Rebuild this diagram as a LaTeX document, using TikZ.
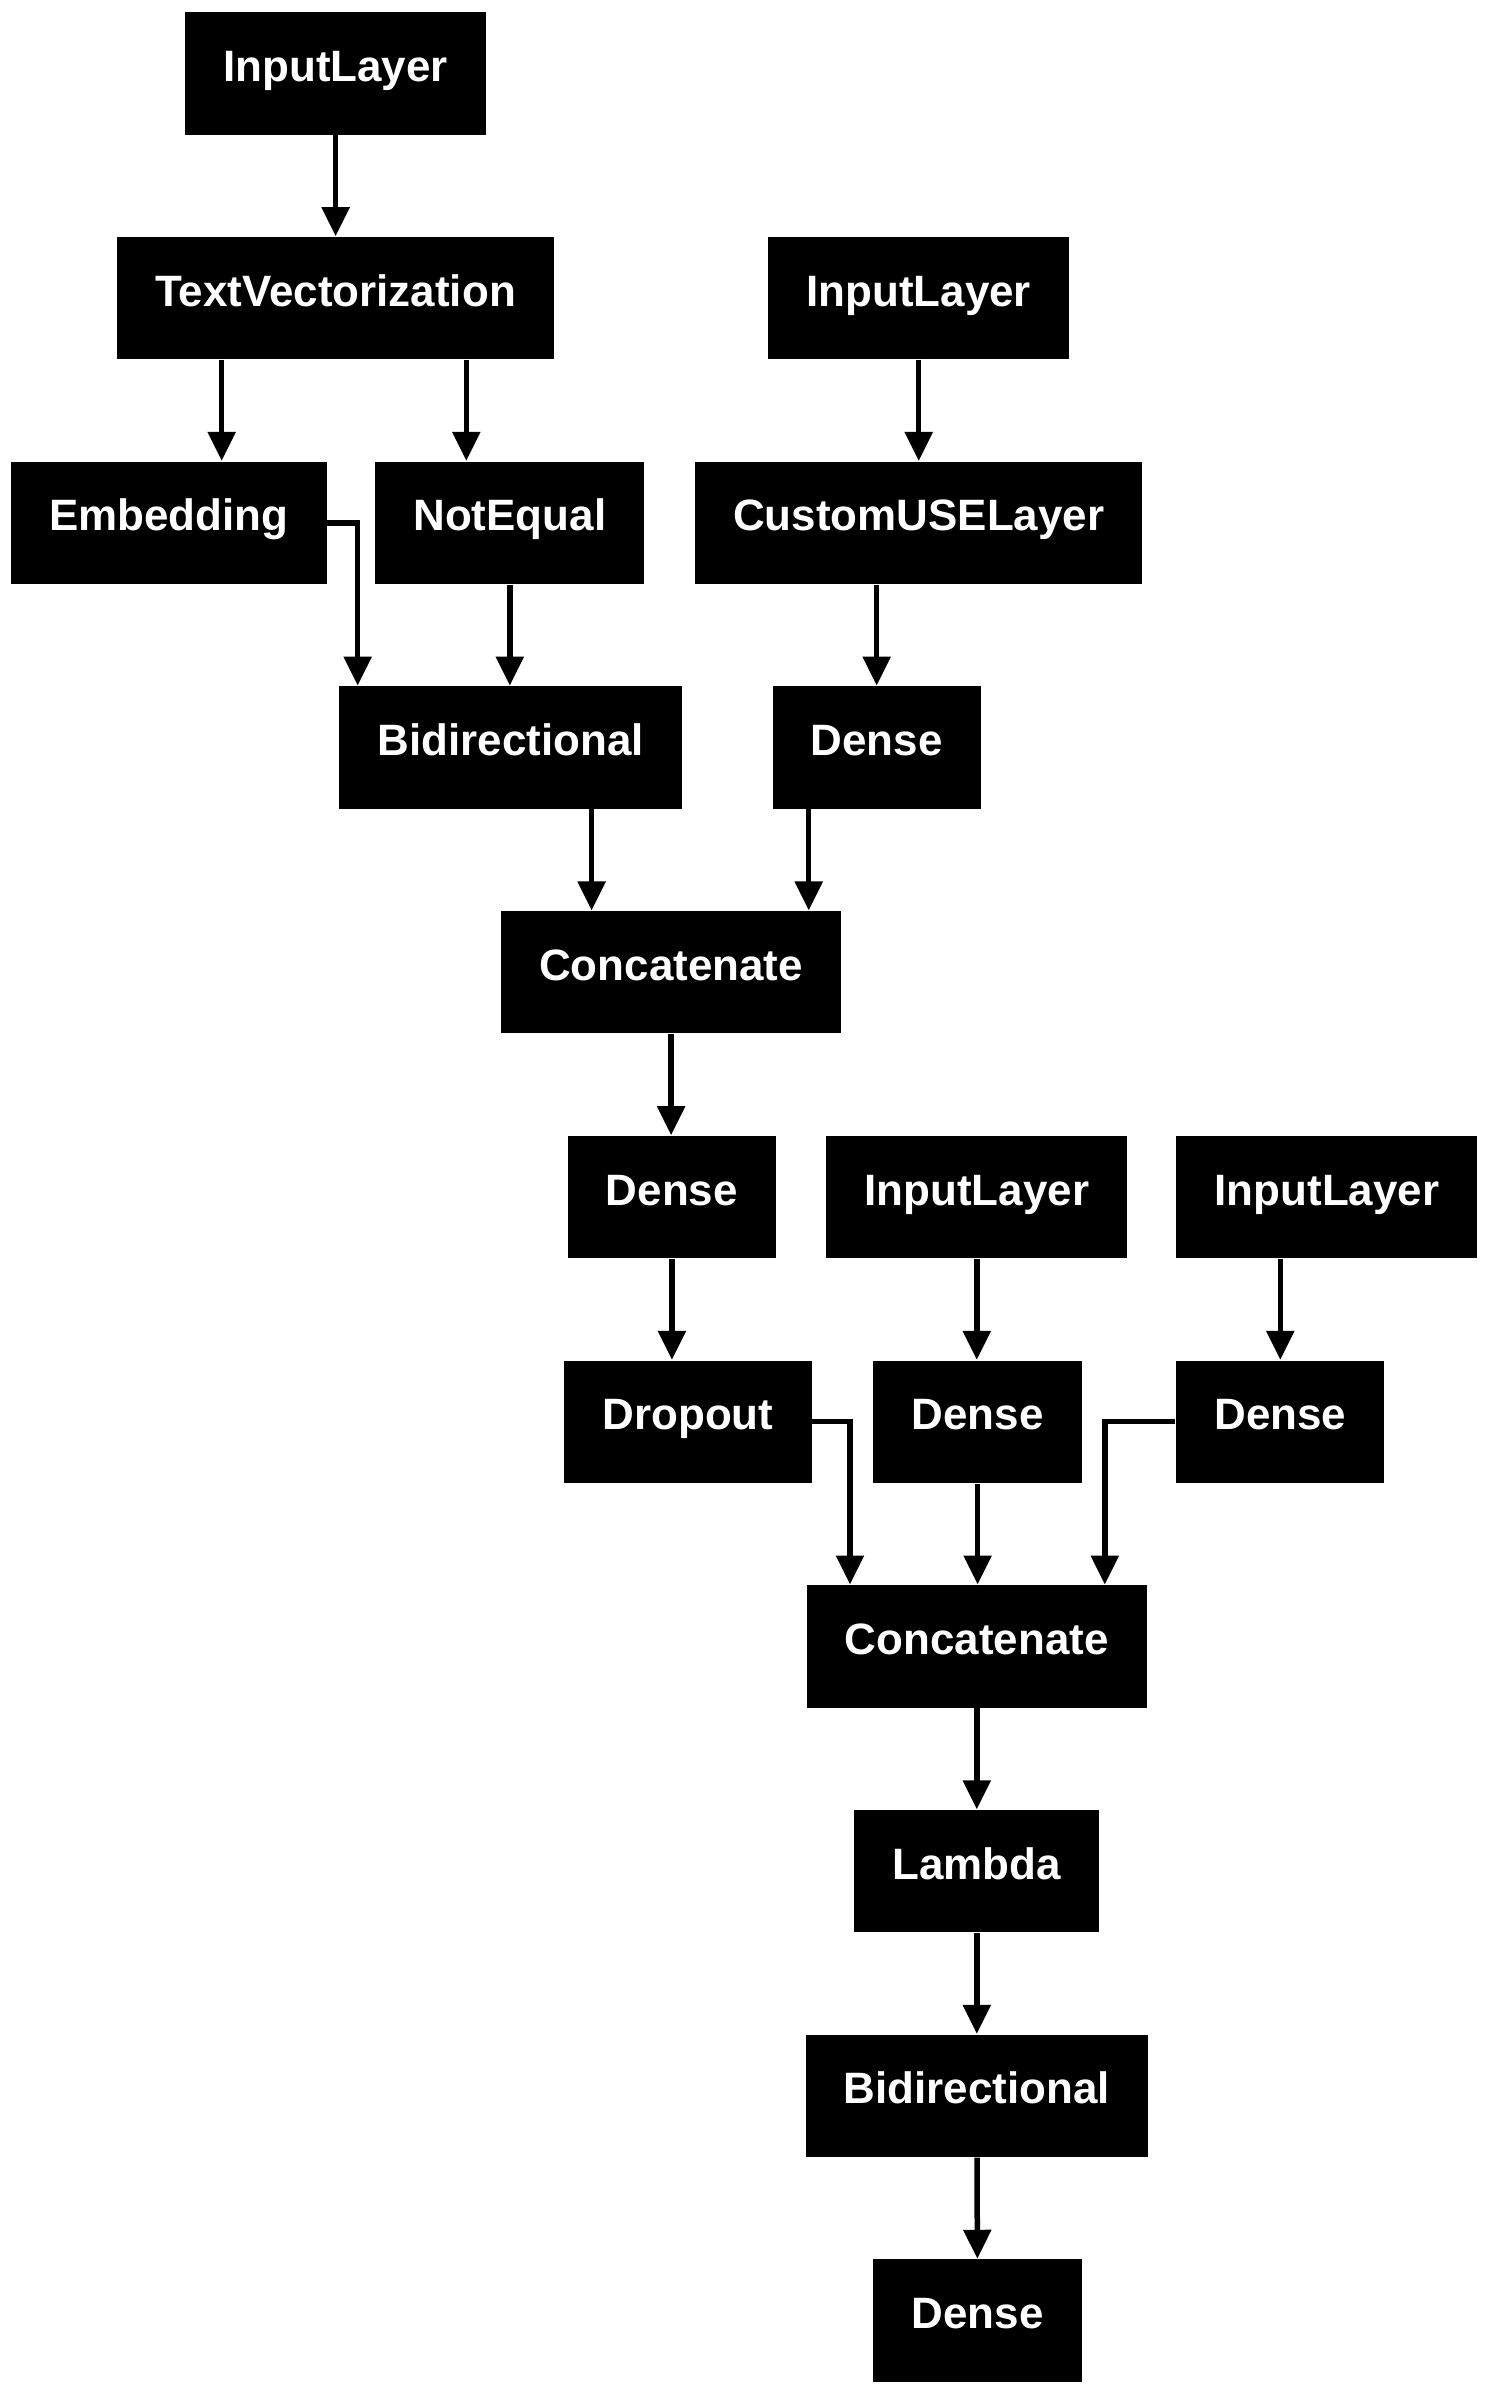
\documentclass[tikz,border=0pt]{standalone}
\usepackage{fontspec}
\usepackage{tikz}
\usetikzlibrary{arrows.meta}
\setmainfont{Liberation Sans}
\tikzset{
    link/.style = {
        line width = 0.55mm,
        -{Triangle[length = 2.9mm, width = 2.7mm]},
    },
}

\begin{document}
\begin{tikzpicture}[x = 0.1mm, y = -0.1mm]
                    \useasboundingbox (0, 0) rectangle (1489, 2397);

                    \begin{scope}[
                        every node/.style = {
                            shape          = rectangle,
                            fill           = black,
                            text           = white,
                            inner xsep     = 3.82mm,
                            inner ysep     = 0pt,
                            minimum height = 12.23mm,
                            text height    = 6pt,
                            text depth     = 1.45pt,
                            font           = \bfseries\fontsize{12.5}{15}\selectfont,
                        }
                    ]
                        \node (inpA)   at ( 335.6,   73.4) {InputLayer};
                        \node (tvec)   at ( 335.6,  298.1) {TextVectorization};
                        \node (inpB)   at ( 918.7,  298.1) {InputLayer};
                        \node (embed)  at ( 168.9,  522.8) {Embedding};
                        \node (neq)    at ( 509.8,  522.8) {NotEqual};
                        \node (cuse)   at ( 918.7,  522.8) {CustomUSELayer};
                        \node (bidA)   at ( 510.6,  747.5) {Bidirectional};
                        \node (denA)   at ( 876.7,  747.5) {Dense};
                        \node (catA)   at ( 671.1,  972.3) {Concatenate};
                        \node (denB)   at ( 671.9, 1197.0) {Dense};
                        \node (inpC)   at ( 976.8, 1197.0) {InputLayer};
                        \node (inpD)   at (1326.9, 1197.0) {InputLayer};
                        \node (drop)   at ( 687.9, 1421.7) {Dropout};
                        \node (denC)   at ( 977.6, 1421.7) {Dense};
                        \node (denD)   at (1280.3, 1421.7) {Dense};
                        \node (catB)   at ( 976.8, 1646.4) {Concatenate};
                        \node (lam)    at ( 976.8, 1871.1) {Lambda};
                        \node (bidB)   at ( 976.8, 2095.8) {Bidirectional};
                        \node (denE)   at ( 977.6, 2320.6) {Dense};
                    \end{scope}

                    \draw[link] (inpA) -- (tvec);
                    \draw[link] ([xshift = -11.39mm]tvec.south) -- ([xshift = -11.39mm]tvec.south |- embed.north);
                    \draw[link] ([xshift = 13.07mm]tvec.south) -- ([xshift = 13.07mm]tvec.south |- neq.north);
                    \draw[link] (inpB) -- (cuse);
                    \draw[link] (embed.east) -| ([xshift = -15.29mm]bidA.north);
                    \draw[link] (neq.south) -- (neq.south |- bidA.north);
                    \draw[link] (cuse.south -| denA.north) -- (denA.north);
                    \draw[link] ([xshift = 8.1mm]bidA.south) -- ([xshift = 8.1mm]bidA.south |- catA.north);
                    \draw[link] ([xshift = -6.8mm]denA.south) -- ([xshift = -6.8mm]denA.south |- catA.north);
                    \draw[link] (catA.south) -- (catA.south |- denB.north);
                    \draw[link] (denB.south) -- (denB.south |- drop.north);
                    \draw[link] (inpC.south) -- (inpC.south |- denC.north);
                    \draw[link] (inpD.south -| denD.north) -- (denD.north);
                    \draw[link] (drop.east) -| ([xshift = -12.68mm]catB.north);
                    \draw[link] (denC.south) -- (denC.south |- catB.north);
                    \draw[link] (denD.west) -| ([xshift = 12.8mm]catB.north);
                    \draw[link] (catB) -- (lam);
                    \draw[link] (lam) -- (bidB);
                    \draw[link] (bidB) -- (denE);
                \end{tikzpicture}
\end{document}
